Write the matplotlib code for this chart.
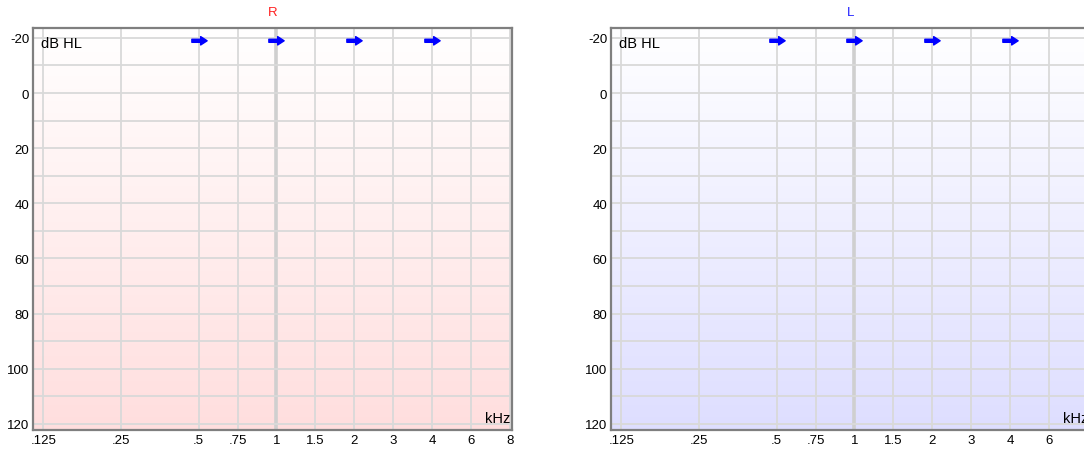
import numpy as np
import matplotlib
matplotlib.use("Agg")
from matplotlib import pyplot as plt
from matplotlib.path import Path
from matplotlib.colors import LinearSegmentedColormap

plt.rcParams['font.family'] = ['Liberation Sans', 'DejaVu Sans']

# audiogram frequency axis (kHz) and hearing level axis (dB HL)
freqs_khz = [0.125, 0.25, 0.5, 0.75, 1, 1.5, 2, 3, 4, 6, 8]
freq_labels = ['.125', '.25', '.5', '.75', '1', '1.5', '2', '3', '4', '6', '8']
db_ticks = [-20, 0, 20, 40, 60, 80, 100, 120]
db_minor = [-10, 10, 30, 50, 70, 90, 110]

# "better than" markers at the top of the chart
right_freqs = [0.5, 1, 2, 4]
right_db = [-20, -20, -20, -20]
left_freqs = [0.5, 1, 2, 4]
left_db = [-20, -20, -20, -20]


def octave_pos(f):
    # audiogram spacing: octaves evenly, half-octaves at the midpoint
    return np.round(2 * np.log2(np.asarray(f, dtype=float) / 0.125)) / 2


# right-pointing arrow, sitting a little below its point
arrow = Path([(-1, -0.5), (0.15, -0.5), (0.15, -0.85), (1, -0.3),
              (0.15, 0.25), (0.15, -0.1), (-1, -0.1), (-1, -0.5)],
             [Path.MOVETO] + [Path.LINETO] * 6 + [Path.CLOSEPOLY])


def draw_ear(ax, title, title_color, bottom_color, freqs, dbs):
    cmap = LinearSegmentedColormap.from_list('bg', ['#ffffff', bottom_color])
    grad = np.linspace(0, 1, 256).reshape(-1, 1)
    ax.imshow(grad, cmap=cmap, aspect='auto', extent=[0, 1, 0, 1],
              transform=ax.transAxes, zorder=0)

    xs = octave_pos(freqs_khz)
    for x, f in zip(xs, freqs_khz):
        if f == 1:
            ax.axvline(x, color='#cfcfcf', lw=2.6, zorder=1)
        else:
            ax.axvline(x, color='#d9d9d9', lw=1.3, zorder=1)
    for y in db_ticks + db_minor:
        ax.axhline(y, color='#d9d9d9', lw=1.3, zorder=1)

    ax.plot(octave_pos(freqs), dbs, linestyle='none', marker=arrow,
            markersize=11, color='#0000ff', zorder=3, clip_on=False)

    ax.set_xlim(-0.126, 6.03)
    ax.set_ylim(122.2, -23.6)
    ax.set_xticks(xs)
    ax.set_xticklabels(freq_labels)
    ax.set_yticks(db_ticks)
    ax.set_yticklabels([str(v) for v in db_ticks])
    ax.tick_params(length=0, labelsize=9.5, pad=3, colors='#000000')
    for s in ax.spines.values():
        s.set_color('#7f7f7f')
        s.set_linewidth(1.6)
        s.set_zorder(4)

    ax.text(0.016, 0.963, 'dB HL', transform=ax.transAxes, fontsize=10.5,
            ha='left', va='center', zorder=5)
    ax.text(0.997, 0.03, 'kHz', transform=ax.transAxes, fontsize=10.5,
            ha='right', va='center', zorder=5)
    ax.set_title(title, color=title_color, fontsize=9.5, pad=9)


fig = plt.figure(figsize=(10.84, 4.52), dpi=100)
ax_r = fig.add_axes([0.0309, 0.0465, 0.4414, 0.8894])
ax_l = fig.add_axes([0.5641, 0.0465, 0.4414, 0.8894])

draw_ear(ax_r, 'R', '#ff2020', '#ffdede', right_freqs, right_db)
draw_ear(ax_l, 'L', '#2020ff', '#dedeff', left_freqs, left_db)

fig.savefig('out.png', dpi=100)
